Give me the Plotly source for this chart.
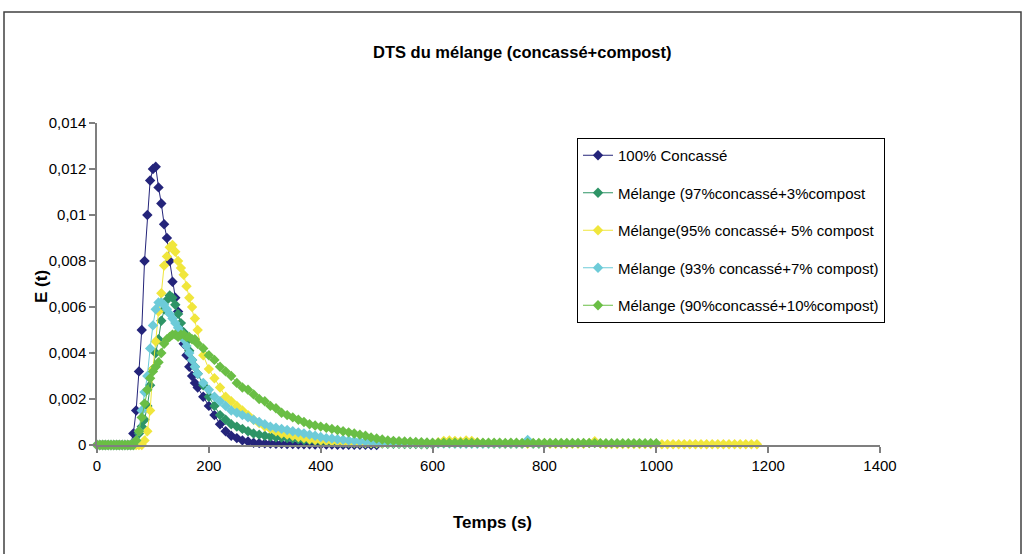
import plotly.graph_objects as go

# ---------------- data ----------------
T = [0, 5, 10, 15, 20, 25, 30, 35, 40, 45, 50, 55, 60, 65, 70, 75, 80, 85, 90, 95,
     100, 105, 110, 115, 120, 125, 130, 135, 140, 145, 150, 155, 160, 165, 170, 175, 180,
     190, 200, 210, 220, 230, 240, 250, 260, 270, 280, 290, 300, 310, 320, 330, 340, 350,
     360, 370, 380, 390, 400, 410, 420, 430, 440, 450, 460, 470, 480, 490, 500, 510, 520,
     530, 540, 550, 560, 570, 580, 590, 600, 610, 620, 630, 640, 650, 660, 670, 680, 690,
     700, 710, 720, 730, 740, 750, 760, 770, 780, 790, 800, 810, 820, 830, 840, 850, 860,
     870, 880, 890, 900, 910, 920, 930, 940, 950, 960, 970, 980, 990, 1000, 1010, 1020,
     1030, 1040, 1050, 1060, 1070, 1080, 1090, 1100, 1110, 1120, 1130, 1140, 1150, 1160,
     1170, 1180]

concasse_100 = [
    0, 0, 0, 0, 0, 0, 0, 0, 0, 0, 0, 0, 0,
    0.0005, 0.0015, 0.0032, 0.0050, 0.0080, 0.0100, 0.0115, 0.0120, 0.0121, 0.0112, 0.0105, 0.0096,
    0.0090, 0.0080, 0.0071, 0.0064, 0.0058, 0.0050, 0.0044, 0.0039, 0.0034, 0.0030, 0.0027, 0.0025,
    0.0021, 0.0017, 0.0013, 0.0009, 0.0006, 0.0004, 0.0003, 0.0002, 0.00015, 0.0001,
    0.00008, 0.00007, 0.00006, 0.00005, 0.00005, 0.00004, 0.00004, 0.00003, 0.00003, 0.00003,
    0.00002, 0.00002, 0.00002, 0.00002, 0.00001, 0.00001, 0.00001, 0.00001, 0.00001, 0.00001, 0, 0]

melange_97_3 = [
    0, 0, 0, 0, 0, 0, 0, 0, 0, 0, 0, 0, 0, 0,
    0.0002, 0.0005, 0.0008, 0.0011, 0.0017, 0.0026, 0.0033, 0.0040, 0.0046, 0.0054, 0.0059, 0.0063,
    0.0065, 0.0064, 0.0061, 0.0057, 0.0053, 0.0049, 0.0045, 0.0041, 0.0037, 0.0034, 0.0031,
    0.0026, 0.0021, 0.0017, 0.0013, 0.0011, 0.0009, 0.0008, 0.0007, 0.0006, 0.0005,
    0.00045, 0.0004, 0.00037, 0.00034, 0.00032, 0.0003, 0.00028, 0.00025, 0.00022, 0.0002,
    0.00017, 0.00015, 0.00013, 0.00012, 0.00011, 0.0001, 0.00009, 0.00008, 0.00008, 0.00007,
    0.00007, 0.00006, 0.00006, 0.00005, 0.00005, 0.00005, 0.00004, 0.00004, 0.00004, 0.00003, 0.00003, 0.00003]

melange_95_5 = [
    0, 0, 0, 0, 0, 0, 0, 0, 0, 0, 0, 0, 0, 0, 0, 0, 0,
    0.0002, 0.0006, 0.0015, 0.0033, 0.0045, 0.0058, 0.0066, 0.0078, 0.0082, 0.0086, 0.0087, 0.0084,
    0.0080, 0.0077, 0.0074, 0.0069, 0.0064, 0.0060, 0.0055, 0.0050,
    0.0039, 0.0033, 0.0029, 0.0025, 0.0021, 0.0019, 0.0017, 0.0015, 0.0013, 0.0011,
    0.00095, 0.0008, 0.0007, 0.0006, 0.0005, 0.00045, 0.0004, 0.00035, 0.0003, 0.00025,
    0.00022, 0.0002, 0.00018, 0.00016, 0.00015, 0.00013, 0.00012, 0.00011, 0.0001, 0.0001,
    0.00009, 0.00009, 0.00008, 0.00008, 0.00008, 0.00007, 0.00007, 0.00007, 0.00007, 0.00006,
    0.00006, 0.00006, 0.00012, 0.00018, 0.0002, 0.00018, 0.00015, 0.0002, 0.00018, 0.00012,
    0.00008, 0.00006, 0.00005, 0.00005, 0.00005, 0.00005, 0.00005, 0.00005, 0.00005, 0.00005,
    0.00005, 0.00005, 0.00005, 0.00005, 0.00005, 0.00005, 0.00005, 0.00005, 0.00005, 0.00008,
    0.00016, 0.00006, 0.00004, 0.00004, 0.00004, 0.00004, 0.00004, 0.00004, 0.00004, 0.00004,
    0.00004, 0.00004, 0.00003, 0.00003, 0.00003, 0.00003, 0.00003, 0.00003, 0.00003, 0.00003,
    0.00003, 0.00003, 0.00003, 0.00003, 0.00003, 0.00003, 0.00003, 0.00003, 0.00003, 0.00003]

melange_93_7 = [
    0, 0, 0, 0, 0, 0, 0, 0, 0, 0, 0, 0, 0, 0,
    0.0002, 0.0006, 0.0015, 0.0023, 0.0030, 0.0042, 0.0052, 0.0059, 0.0062, 0.0062, 0.0061, 0.0059,
    0.0057, 0.0055, 0.0053, 0.0051, 0.0049, 0.0046, 0.0043, 0.0040, 0.0037, 0.0034, 0.0031,
    0.0027, 0.0024, 0.0021, 0.0019, 0.0017, 0.0015, 0.0014, 0.0013, 0.0012, 0.0011,
    0.0010, 0.0009, 0.0008, 0.00075, 0.0007, 0.00065, 0.0006, 0.00055, 0.0005, 0.00045,
    0.0004, 0.00035, 0.0003, 0.00028, 0.00025, 0.00023, 0.0002, 0.00018, 0.00016, 0.00015,
    0.00013, 0.00012, 0.00011, 0.0001, 0.0001, 0.00009, 0.00009, 0.00008, 0.00008, 0.00007,
    0.00007, 0.00006, 0.00006, 0.00006, 0.00006, 0.00005, 0.00005, 0.00005, 0.00005, 0.00005,
    0.00005, 0.00005, 0.00005, 0.00005, 0.00005, 0.00005, 0.00005, 0.00005, 0.00022, 0.00005, 0.00005, 0.00005]

melange_90_10 = [
    0, 0, 0, 0, 0, 0, 0, 0, 0, 0, 0, 0, 0, 0,
    0.0002, 0.0006, 0.0012, 0.0018, 0.0024, 0.0029, 0.0032, 0.0034, 0.0036, 0.0040, 0.0044, 0.0046,
    0.0047, 0.0048, 0.0048, 0.0047, 0.0048, 0.0048, 0.0047, 0.0047, 0.0046, 0.0046, 0.0044,
    0.0042, 0.0039, 0.0037, 0.0034, 0.0032, 0.0030, 0.0027, 0.0025, 0.0024, 0.0022,
    0.0020, 0.0019, 0.0017, 0.0016, 0.0014, 0.0013, 0.0012, 0.0011, 0.0010, 0.0009,
    0.00085, 0.0008, 0.00075, 0.0007, 0.00065, 0.0006, 0.00055, 0.0005, 0.00045, 0.0004,
    0.00033, 0.00028, 0.00024, 0.0002, 0.00018, 0.00016, 0.00015, 0.00014, 0.00013, 0.00012,
    0.00011, 0.0001, 0.0001, 0.0001, 0.0001, 0.0001, 0.0001, 0.0001, 0.0001, 0.0001,
    0.0001, 0.0001, 0.0001, 0.0001, 0.00009, 0.0001, 0.0001, 0.00009, 0.00009, 0.00009,
    0.00009, 0.00009, 0.00009, 0.00009, 0.00009, 0.00009, 0.00009, 0.00009, 0.00009, 0.00009,
    0.00008, 0.00008, 0.00008, 0.00008, 0.00008, 0.00008, 0.00008, 0.00008, 0.00008, 0.00008, 0.00008, 0.00008]

series_names = [
    "100% Concassé",
    "Mélange (97%concassé+3%compost",
    "Mélange(95% concassé+ 5% compost",
    "Mélange (93% concassé+7% compost)",
    "Mélange (90%concassé+10%compost)",
]
series_values = [concasse_100, melange_97_3, melange_95_5, melange_93_7, melange_90_10]
series_colors = ["#24247A", "#2E9466", "#F0E63C", "#6DCBD8", "#6ABE45"]

x_tick_vals = [0, 200, 400, 600, 800, 1000, 1200, 1400]
x_tick_text = ["0", "200", "400", "600", "800", "1000", "1200", "1400"]
y_tick_vals = [0, 0.002, 0.004, 0.006, 0.008, 0.010, 0.012, 0.014]
y_tick_text = ["0", "0,002", "0,004", "0,006", "0,008", "0,01", "0,012", "0,014"]

TITLE = "DTS du mélange (concassé+compost)"
X_TITLE = "Temps (s)"
Y_TITLE = "E (t)"

# ---------------- figure ----------------
FONT = "Liberation Sans, Arial, sans-serif"

fig = go.Figure()
for i, (name, vals, col) in enumerate(zip(series_names, series_values, series_colors)):
    fig.add_trace(go.Scatter(
        x=T[:len(vals)], y=vals, name=name, mode="lines+markers",
        line=dict(color=col, width=1),
        marker=dict(symbol="diamond", size=8, color=col),
        cliponaxis=False, legendgroup="g%d" % i,
    ))

W, H = 1024, 554
L, R, TOP, B = 97, 880, 123, 445
pw, ph = R - L, B - TOP


def px(xp):
    return (xp - L) / pw


def py(yp):
    return (B - yp) / ph


fig.update_layout(
    width=W, height=H,
    margin=dict(l=L, r=W - R, t=TOP, b=H - B, pad=0),
    paper_bgcolor="white", plot_bgcolor="white",
    font=dict(family=FONT, size=15, color="black"),
    showlegend=True,
    legend=dict(x=px(577), y=py(138), xanchor="left", yanchor="top",
                bordercolor="black", borderwidth=1, bgcolor="white",
                font=dict(family=FONT, size=15, color="black"),
                tracegroupgap=15, traceorder="grouped"),
    xaxis=dict(range=[0, 1400], tickvals=x_tick_vals, ticktext=x_tick_text,
               showgrid=False, zeroline=False, showline=True, linecolor="#7F7F7F", linewidth=1.5,
               ticks="outside", ticklen=6, tickcolor="#7F7F7F", tickwidth=1.5,
               tickfont=dict(family=FONT, size=15, color="black")),
    yaxis=dict(range=[0, 0.014], tickvals=y_tick_vals, ticktext=y_tick_text,
               showgrid=False, zeroline=False, showline=True, linecolor="#7F7F7F", linewidth=1.5,
               ticks="outside", ticklen=6, tickcolor="#7F7F7F", tickwidth=1.5,
               tickfont=dict(family=FONT, size=15, color="black")),
    annotations=[
        dict(text="<b>%s</b>" % TITLE, x=px(522), y=py(52), xref="paper", yref="paper",
             showarrow=False, xanchor="center", yanchor="middle",
             font=dict(family=FONT, size=16.5, color="black")),
        dict(text="<b>%s</b>" % X_TITLE, x=px(492), y=py(522), xref="paper", yref="paper",
             showarrow=False, xanchor="center", yanchor="middle",
             font=dict(family=FONT, size=17, color="black")),
        dict(text="<b>%s</b>" % Y_TITLE, x=px(41), y=py(287), xref="paper", yref="paper",
             showarrow=False, xanchor="center", yanchor="middle", textangle=-90,
             font=dict(family=FONT, size=17, color="black")),
    ],
    shapes=[
        dict(type="rect", xref="paper", yref="paper",
             x0=px(4), x1=px(1021), y0=py(600), y1=py(12),
             line=dict(color="#404040", width=1.5), fillcolor="rgba(0,0,0,0)", layer="below"),
    ],
)

fig.write_html("out.html", config={"displayModeBar": False},
               post_script="document.body.style.margin='0';document.body.style.overflow='hidden';")
